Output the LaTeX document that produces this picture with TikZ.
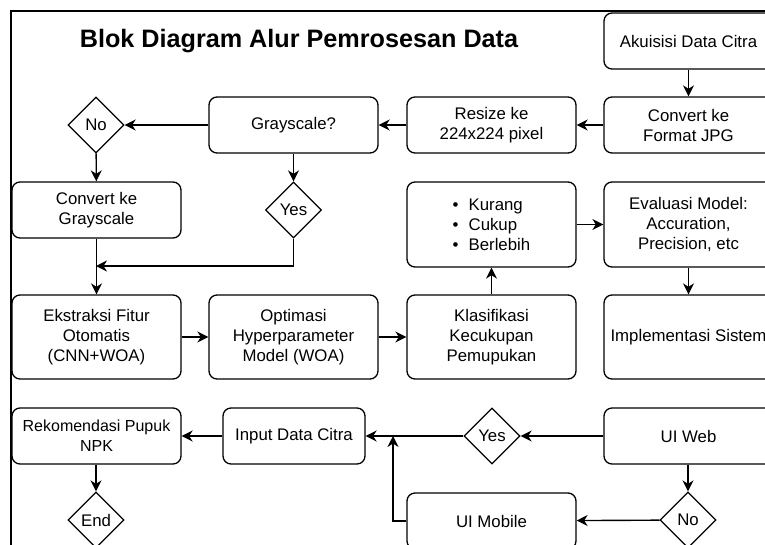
\documentclass[tikz,border=0pt]{standalone}
\usepackage{fontspec}
\setmainfont{Liberation Sans}
\usetikzlibrary{shapes.geometric, arrows.meta}

\begin{document}
\begin{tikzpicture}[x=1pt, y=-1pt,
	box/.style={draw, rounded corners=8pt, line width=1.3pt, minimum width=169pt, minimum height=56pt, align=center, inner sep=2pt, font=\fontsize{16.8}{20}\selectfont},
	tall/.style={box, minimum height=84pt},
	dec/.style={draw, diamond, line width=1.3pt, minimum width=56pt, minimum height=56pt, inner sep=0pt, font=\fontsize{16.8}{20}\selectfont},
	arr/.style={line width=1.4pt, -{Stealth[length=11pt, width=11pt, inset=3.5pt]}}]
	\def \colA{96.5} % column centres
	\def \colB{293.5}
	\def \colC{491.5}
	\def \colD{688.5}
	\useasboundingbox (0,0) rectangle (765,544);
	\clip (0,0) rectangle (765,544);
	% frame and title
	\draw[line width=1.4pt] (11,11) rectangle (790,570);
	\node[anchor=base, font=\fontsize{25.2}{30}\selectfont\bfseries] (title) at (299,47) {Blok Diagram Alur Pemrosesan Data};
	% preprocessing
	\node[box] (akuisisi) at (\colD,41) {Akuisisi Data Citra};
	\node[box] (jpg) at (\colD,125) {Convert ke\\Format JPG};
	\node[box] (resize) at (\colC,125) {Resize ke\\224x224 pixel};
	\node[box] (grayq) at (\colB,125) {Grayscale?};
	\node[dec] (no1) at (96,125) {No};
	\node[box] (convgray) at (\colA,210) {Convert ke\\Grayscale};
	\node[dec] (yes1) at (\colB,210) {Yes};
	\coordinate (merge) at (96,266);
	% model
	\node[tall] (ekstraksi) at (\colA,337) {Ekstraksi Fitur\\Otomatis\\(CNN+WOA)};
	\node[tall] (optimasi) at (\colB,337) {Optimasi\\Hyperparameter\\Model (WOA)};
	\node[tall] (klasifikasi) at (\colC,337) {Klasifikasi\\Kecukupan\\Pemupukan};
	\node[tall] (implementasi) at (\colD,337) {Implementasi Sistem};
	\node[tall, minimum height=85pt, align=left] (kelas) at (\colC,224.5) {\textbullet\hspace{10pt}Kurang\\\textbullet\hspace{10pt}Cukup\\\textbullet\hspace{10pt}Berlebih};
	\node[tall, minimum height=85pt] (evaluasi) at (\colD,224.5) {Evaluasi Model:\\Accuration,\\Precision, etc};
	% system
	\node[box] (uiweb) at (\colD,436) {UI Web};
	\node[dec] (yes2) at (492,436) {Yes};
	\node[box, minimum width=142pt] (input) at (294,436) {Input Data Citra};
	\node[box, font=\fontsize{16}{20}\selectfont] (rekomendasi) at (\colA,436) {Rekomendasi Pupuk\\NPK};
	\node[dec] (end) at (96,520) {End};
	\node[dec] (no2) at (688,520) {No};
	\node[box] (uimobile) at (\colC,521) {UI Mobile};
	\coordinate (join) at (393,436);
	% making arrows
	\draw[arr] (akuisisi) -- (jpg);
	\draw[arr] (jpg) -- (resize);
	\draw[arr] (resize) -- (grayq);
	\draw[arr] (grayq) -- (no1);
	\draw[arr] (no1) -- (convgray);
	\draw[arr] (grayq.south -| yes1) -- (yes1);
	\draw[arr] (yes1.south) |- (merge);
	\draw[arr] (convgray) -- (ekstraksi);
	\draw[arr] (ekstraksi) -- (optimasi);
	\draw[arr] (optimasi) -- (klasifikasi);
	\draw[arr] (klasifikasi) -- (kelas);
	\draw[arr] (kelas) -- (evaluasi);
	\draw[arr] (evaluasi) -- (implementasi);
	\draw[arr] (uiweb) -- (yes2);
	\draw[arr] (yes2) -- (input);
	\draw[arr] (uiweb.south -| no2) -- (no2);
	\draw[arr] (no2) -- (uimobile);
	\draw[arr] (uimobile.west) -| (join);
	\draw[arr] (input) -- (rekomendasi);
	\draw[arr] (rekomendasi.south -| end) -- (end);
\end{tikzpicture}
\end{document}
